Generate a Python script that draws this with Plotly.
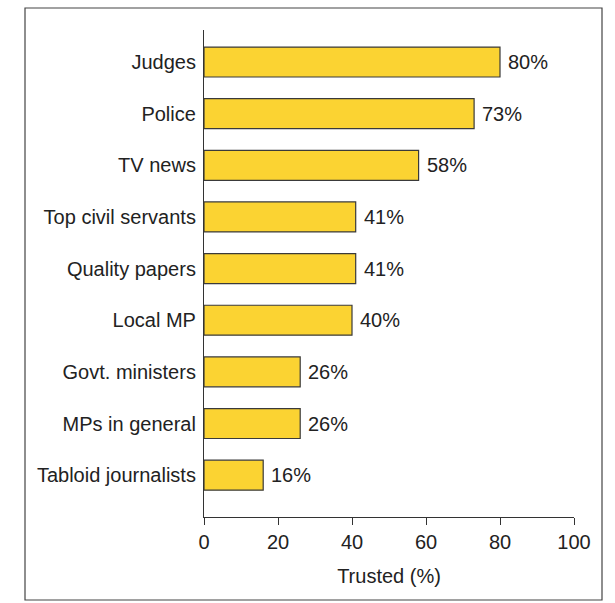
import plotly.graph_objects as go

categories = ["Tabloid journalists", "MPs in general", "Govt. ministers", "Local MP",
              "Quality papers", "Top civil servants", "TV news", "Police", "Judges"]
values = [16, 26, 26, 40, 41, 41, 58, 73, 80]
x_ticks = [0, 20, 40, 60, 80, 100]
x_title = "Trusted (%)"

W, H = 615, 603
L, R, T, B = 204, 41, 30, 86
pw, ph = W - L - R, H - T - B

font_family = "Liberation Sans, Arial, sans-serif"

fig = go.Figure()
fig.add_trace(go.Bar(
    x=values, y=categories, orientation="h",
    marker=dict(color="#FBD332", line=dict(color="#3a3a3a", width=1.2)),
    width=0.58,
    cliponaxis=False,
))

for c, v in zip(categories, values):
    fig.add_annotation(x=v, y=c, text=f"{v}%", showarrow=False, xanchor="left",
                       xshift=6, font=dict(family=font_family, size=20, color="#222"))

fig.update_layout(
    width=W, height=H,
    margin=dict(l=L, r=R, t=T, b=B, pad=0),
    paper_bgcolor="white", plot_bgcolor="white",
    showlegend=False,
    font=dict(family=font_family, size=20, color="#222"),
    xaxis=dict(range=[0, 100], tickvals=x_ticks, ticks="outside", ticklen=7,
               tickcolor="#333", showline=True, linecolor="#333", linewidth=1.2,
               showgrid=False, zeroline=False, tickfont=dict(size=20),
               title=dict(text=x_title, font=dict(size=20), standoff=16)),
    yaxis=dict(type="category", categoryorder="array", categoryarray=categories,
               range=[-0.81, 8.62], showline=True, linecolor="#333", linewidth=1.2,
               showgrid=False, ticks="", tickfont=dict(size=20), ticklabelstandoff=3),
)

def px_to_paper_x(px):
    return (px - L) / pw
def px_to_paper_y(py):
    return 1 - (py - T) / ph

fig.add_shape(type="rect", xref="paper", yref="paper",
              x0=px_to_paper_x(25), x1=px_to_paper_x(602),
              y0=px_to_paper_y(600), y1=px_to_paper_y(8),
              line=dict(color="#444", width=1.2), fillcolor="rgba(0,0,0,0)")

fig.write_html("out.html")
